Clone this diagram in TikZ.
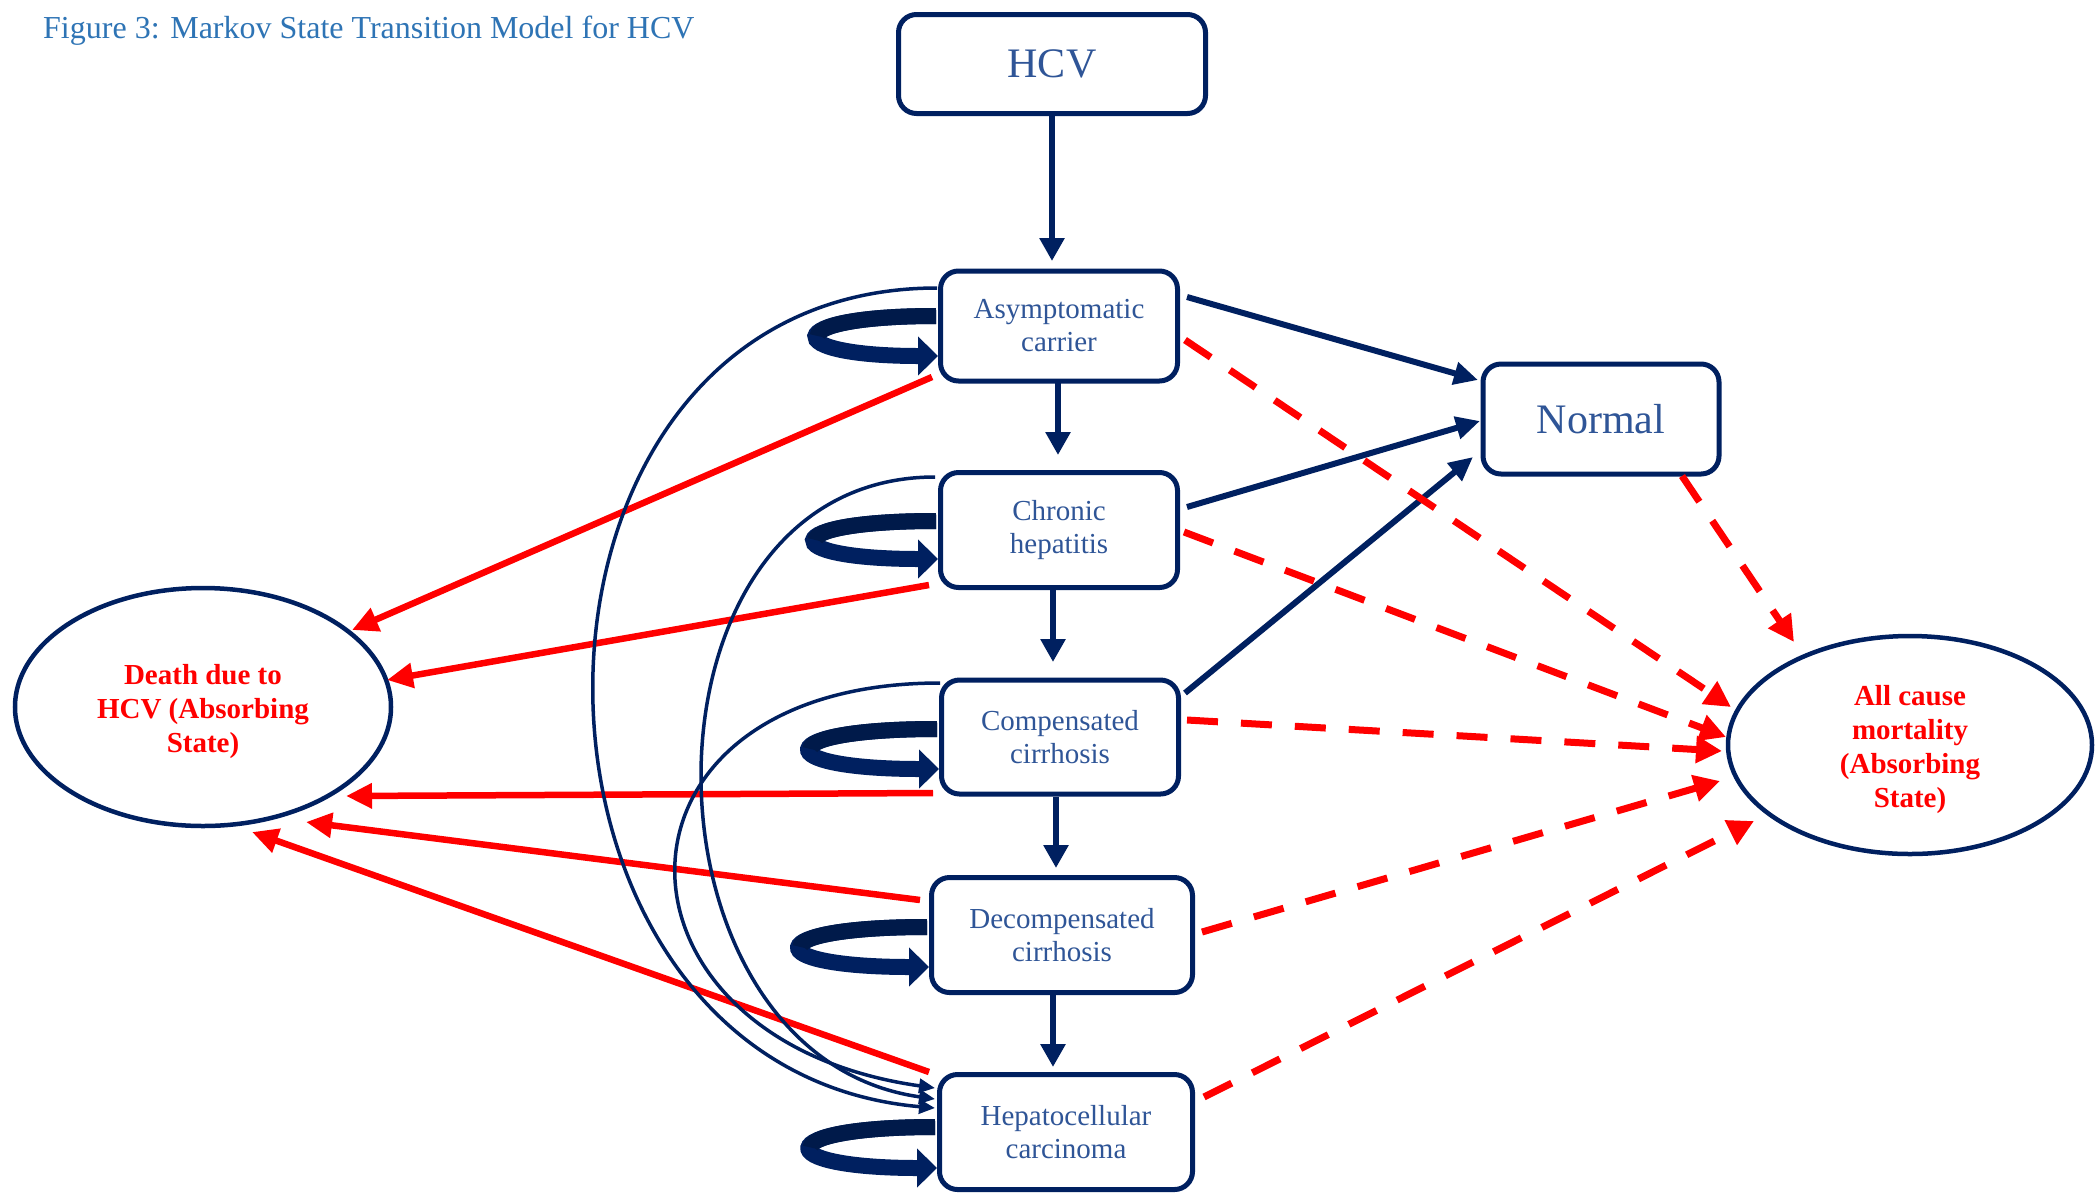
\documentclass[tikz,border=0pt]{standalone}
\usepackage{fontspec}
\setmainfont{Liberation Serif}
\usetikzlibrary{arrows.meta,shapes.geometric,calc}

\definecolor{navy}{RGB}{0,32,96}
\definecolor{navydark}{RGB}{0,26,74}
\definecolor{boxtext}{RGB}{47,85,151}
\definecolor{captionblue}{RGB}{46,116,181}
\definecolor{alarm}{RGB}{255,0,0}

% thick curled arrow back into the same state, on its left side
% #1 node, #2 top offset, #3 tip offset, #4 reach of the control points
\newcommand{\selfloop}[4]{%
  \draw[stay] ($(#1.west)+(-2,#2)$) .. controls ($(#1.west)+(#4,#2)$) and ($(#1.west)+(#4,#3)$) .. ($(#1.west)+(0,#3)$);
  \draw[navydark, line width=16pt] ($(#1.west)+(-2,#2)$) .. controls ($(#1.west)+({(#4-2)/2},#2)$) and ($(#1.west)+({(3*#4-2)/4},{(3*#2+#3)/4})$) .. ($(#1.west)+({(6*#4-2)/8},{(#2+#3)/2})$);
}

\begin{document}
\begin{tikzpicture}[x=1pt,y=-1pt,
  stagebox/.style={draw=navy, line width=5pt, rounded corners=18pt, fill=white, text=boxtext,
    align=center, inner sep=0pt, font=\fontsize{29}{33}\selectfont},
  bigbox/.style={stagebox, font=\fontsize{42}{48}\selectfont},
  absorb/.style={ellipse, draw=navy, line width=4.5pt, fill=white, inner sep=0pt},
  absorbtext/.style={text=alarm, align=center, inner sep=0pt, font=\bfseries\fontsize{29}{34}\selectfont},
  flow/.style={draw=navy, line width=6.5pt, -{Triangle[length=23pt,width=24pt]}},
  cure/.style={draw=navy, line width=6pt, -{Triangle[length=24pt,width=22pt]}},
  hcvdeath/.style={draw=alarm, line width=6.5pt, -{Triangle[length=26pt,width=24pt]}},
  otherdeath/.style={draw=alarm, line width=7pt, dash pattern=on 31pt off 23pt,
    -{Triangle[length=26pt,width=26pt]}},
  jump/.style={draw=navy, line width=3.5pt, -{Triangle[length=16pt,width=14pt]}},
  stay/.style={draw=navy, line width=16pt, -{Triangle[length=20pt,width=38pt]}},
]
\useasboundingbox (0,0) rectangle (2096,1195);
\fill[white] (0,0) rectangle (2096,1195);

% caption
\node[anchor=base west, text=captionblue, font=\fontsize{32}{38}\selectfont, inner sep=0pt]
  (title) at (43,38) {Figure 3: Markov State Transition Model for HCV};

% states
\node[bigbox, minimum width=307pt, minimum height=99pt] (hcv) at (1052,64) {HCV};
\node[stagebox, minimum width=237pt, minimum height=110pt] (asym) at (1059,326) {Asymptomatic\\carrier};
\node[stagebox, minimum width=237pt, minimum height=115pt] (chronic) at (1059,530) {Chronic\\hepatitis};
\node[stagebox, minimum width=237pt, minimum height=114pt] (comp) at (1060,737) {Compensated\\cirrhosis};
\node[stagebox, minimum width=261pt, minimum height=115pt] (decomp) at (1062,935) {Decompensated\\cirrhosis};
\node[stagebox, minimum width=253pt, minimum height=115pt] (hepato) at (1066,1132) {Hepatocellular\\carcinoma};
\node[bigbox, minimum width=236pt, minimum height=110pt] (normal) at (1601,419) {Normal};
\node[absorb, minimum width=376pt, minimum height=238pt] (death) at (203,707) {};
\node[absorbtext] (deathtext) at ($(death.center)+(0,5)$) {Death due to\\HCV (Absorbing\\State)};
\node[absorb, minimum width=364pt, minimum height=218pt] (allcause) at (1910,745) {};
\node[absorbtext] (allcausetext) at ($(allcause.center)+(0,5)$) {All cause\\mortality\\(Absorbing\\State)};

% progression
\draw[flow] ($(hcv.center)+(0,51)$) -- ($(asym.center)+(-7,-65)$);
\draw[flow] ($(asym.center)+(-1,56)$) -- ($(chronic.center)+(-1,-75)$);
\draw[flow] ($(chronic.center)+(-6,59)$) -- ($(comp.center)+(-7,-75)$);
\draw[flow] ($(comp.center)+(-4,60)$) -- ($(decomp.center)+(-6,-67)$);
\draw[flow] ($(decomp.center)+(-9,60)$) -- ($(hepato.center)+(-13,-65)$);

% recovery
\draw[cure] ($(asym.center)+(128,-29)$) -- ($(normal.center)+(-123,-39)$);
\draw[cure] ($(chronic.center)+(128,-23)$) -- ($(normal.center)+(-121,2)$);
\draw[cure] ($(comp.center)+(125,-44)$) -- ($(normal.center)+(-128,38)$);

% death due to HCV
\draw[hcvdeath] ($(asym.center)+(-127,51)$) -- ($(death.center)+(149,-77)$);
\draw[hcvdeath] ($(chronic.center)+(-130,55)$) -- ($(death.center)+(184,-27)$);
\draw[hcvdeath] ($(comp.center)+(-127,56)$) -- ($(death.center)+(143,89)$);
\draw[hcvdeath] ($(decomp.center)+(-142,-35)$) -- ($(death.center)+(103,115)$);
\draw[hcvdeath] ($(hepato.center)+(-137,-60)$) -- ($(death.center)+(49,125)$);

% all cause mortality
\draw[otherdeath] ($(asym.center)+(126,14)$) -- ($(allcause.center)+(-179,-38)$);
\draw[otherdeath] ($(chronic.center)+(125,2)$) -- ($(allcause.center)+(-184,-8)$);
\draw[otherdeath] ($(comp.center)+(127,-17)$) -- ($(allcause.center)+(-188,6)$);
\draw[otherdeath] ($(decomp.center)+(140,-3)$) -- ($(allcause.center)+(-190,36)$);
\draw[otherdeath] ($(hepato.center)+(138,-35)$) -- ($(allcause.center)+(-156,76)$);
\draw[otherdeath] ($(normal.center)+(81,57)$) -- ($(allcause.center)+(-116,-103)$);

% direct jumps to hepatocellular carcinoma
\draw[jump] ($(asym.center)+(-122,-38)$) to[out=180,in=175,out distance=457pt,in distance=455pt] ($(hepato.center)+(-131,-24)$);
\draw[jump] ($(chronic.center)+(-124,-53)$) to[out=180,in=172,out distance=311pt,in distance=311pt] ($(hepato.center)+(-131,-33)$);
\draw[jump] ($(comp.center)+(-120,-54)$) to[out=180,in=172,out distance=352pt,in distance=347pt] ($(hepato.center)+(-131,-44)$);

% staying in the same state
\selfloop{asym}{-10}{30}{-160}
\selfloop{chronic}{-9}{29}{-163}
\selfloop{comp}{-8}{32}{-171}
\selfloop{decomp}{-8}{32}{-171}
\selfloop{hepato}{-5}{36}{-168}
\end{tikzpicture}
\end{document}
